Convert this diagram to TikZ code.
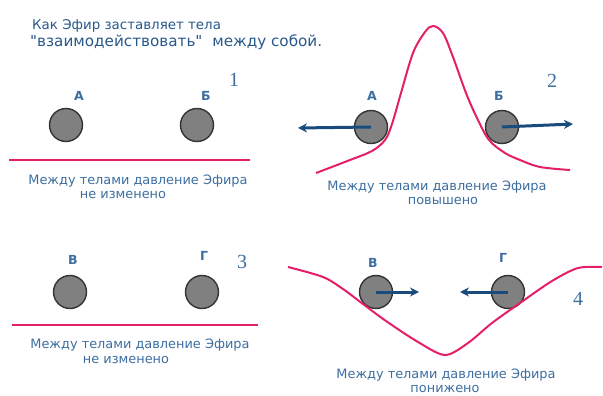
\documentclass[tikz,border=0pt]{standalone}
\usepackage{fontspec}
\setmainfont{DejaVu Sans}[Ligatures=TeXOff]
\newfontfamily\numfont{Liberation Serif}
\usetikzlibrary{arrows.meta}
\definecolor{titleblue}{RGB}{40,88,138}
\definecolor{textblue}{RGB}{60,110,160}
\definecolor{arrowblue}{RGB}{25,75,125}
\definecolor{etherpink}{RGB}{228,30,105}
\definecolor{bodygray}{RGB}{128,128,128}
\tikzset{
	body/.style={circle, draw=black!80, fill=bodygray, line width=1.4pt, minimum size=33pt, inner sep=0pt},
	ether/.style={etherpink, line width=2pt},
	push/.style={arrowblue, line width=3pt, -{Stealth[length=9pt,width=9pt]}}
}

\begin{document}
\begin{tikzpicture}[
		x=1pt, y=-1pt,
		letter/.style={anchor=base, text=textblue, font=\bfseries\fontsize{12.5}{14}\selectfont},
		caption/.style={anchor=base, text=textblue, font=\fontsize{12.9}{15}\selectfont},
		panelno/.style={anchor=base, text=textblue, font=\numfont\fontsize{20}{22}\selectfont},
		heading/.style={anchor=base west, text=titleblue, inner sep=0pt}
		]
		\useasboundingbox (0,0) rectangle (603,396);
		
		% title
		\node[heading, font=\fontsize{13.4}{16}\selectfont] (title1) at (32,30) {Как Эфир заставляет тела};
		\node[heading, font=\fontsize{15.2}{18}\selectfont] (title2) at (30,47) {"взаимодействовать"\hspace{5pt} между собой.};
		
		% panel 1
		\node[body] (A1) at (66,125) {};
		\node[body] (B1) at (197,125) {};
		\node[letter] (lA1) at (79,100) {А};
		\node[letter] (lB1) at (206,100) {Б};
		\node[panelno] (n1) at (234,87) {1};
		\coordinate (s1) at (9,160);
		\coordinate (e1) at (250,160);
		\draw[ether] (s1) -- (e1);
		\node[caption] (c1a) at (138,184) {Между телами давление Эфира};
		\node[caption] (c1b) at (123,198) {не изменено};
		
		% panel 2
		\node[body] (A2) at (371,127) {};
		\node[body] (B2) at (502,127) {};
		\node[letter] (lA2) at (372,100) {А};
		\node[letter] (lB2) at (499,100) {Б};
		\node[panelno] (n2) at (552,88) {2};
		\draw[ether] plot[smooth, tension=0.55] coordinates {(316,173) (350,160) (372,151) (385,140) (392,124) (401,93) (413,53) (425,32) (433,26) (443,33) (453,57) (466,93) (477,118) (489,140) (505,153) (520,160) (540,167) (570,170)};
		\coordinate (tA2) at (298,128);
		\coordinate (tB2) at (573,124);
		\draw[push] (A2.center) -- (tA2);
		\draw[push] (B2.center) -- (tB2);
		\node[caption] (c2a) at (437,190) {Между телами давление Эфира};
		\node[caption] (c2b) at (443,204) {повышено};
		
		% panel 3
		\node[body] (A3) at (70,292) {};
		\node[body] (B3) at (202,292) {};
		\node[letter] (lA3) at (73,264) {В};
		\node[letter] (lB3) at (204,260) {Г};
		\node[panelno] (n3) at (242,268) {3};
		\coordinate (s3) at (12,325);
		\coordinate (e3) at (258,325);
		\draw[ether] (s3) -- (e3);
		\node[caption] (c3a) at (140,348) {Между телами давление Эфира};
		\node[caption] (c3b) at (126,363) {не изменено};
		
		% panel 4
		\node[body] (A4) at (376,292) {};
		\node[body] (B4) at (508,292) {};
		\node[letter] (lA4) at (373,267) {В};
		\node[letter] (lB4) at (503,262) {Г};
		\node[panelno] (n4) at (578,305) {4};
		\draw[ether] plot[smooth, tension=0.5] coordinates {(288,267) (323,277) (343,289) (363,304) (386,321) (418,342) (445,355) (468,343) (492,323) (520,303) (552,281) (578,268) (602,267)};
		\coordinate (tA4) at (419,292);
		\coordinate (tB4) at (460,292);
		\draw[push] (A4.center) -- (tA4);
		\draw[push] (B4.center) -- (tB4);
		\node[caption] (c4a) at (446,378) {Между телами давление Эфира};
		\node[caption] (c4b) at (445,392) {понижено};
		
	\end{tikzpicture}
\end{document}
